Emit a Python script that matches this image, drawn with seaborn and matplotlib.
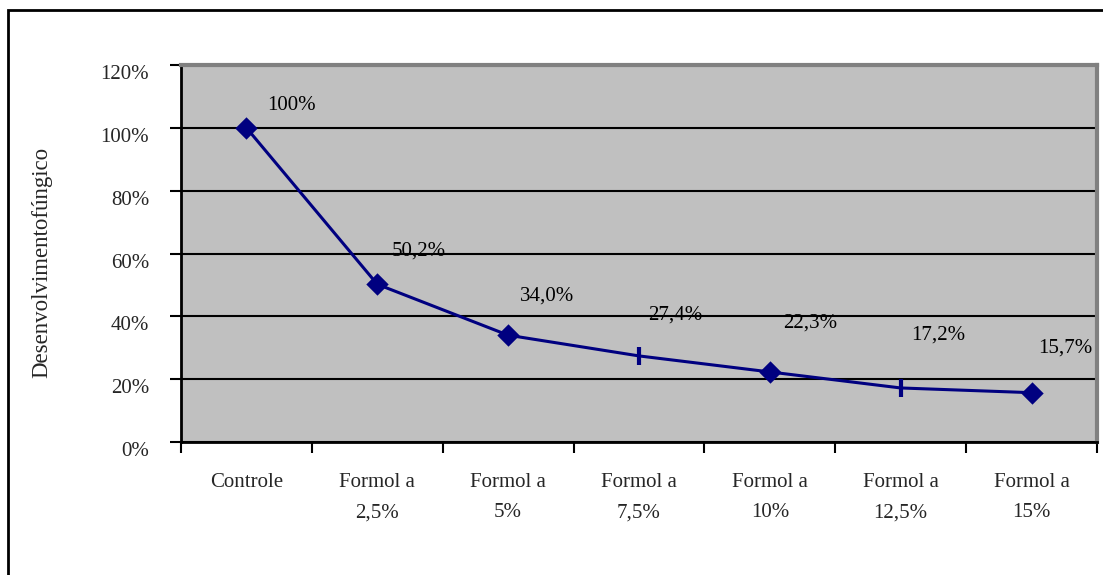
import numpy as np
import pandas as pd
import seaborn as sns
import matplotlib.pyplot as plt
from matplotlib.patches import Rectangle

categories = ['Controle', 'Formol a\n2,5%', 'Formol a\n5%', 'Formol a\n7,5%',
              'Formol a\n10%', 'Formol a\n12,5%', 'Formol a\n15%']
values = [100, 50.2, 34.0, 27.4, 22.3, 17.2, 15.7]
value_labels = ['100%', '50,2%', '34,0%', '27,4%', '22,3%', '17,2%', '15,7%']
marker_kind = ['d', 'd', 'd', 'v', 'd', 'v', 'd']
yticks = [0, 20, 40, 60, 80, 100, 120]

# label offsets (pixels) as placed in the original chart
label_dx = [45, 41, 39, 36, 40, 38, 34]
label_dy = [22, 33, 39, 41, 49, 53, 45]

df = pd.DataFrame({'pos': np.arange(len(categories)), 'val': values, 'kind': marker_kind})

sns.set_style('white')
plt.rcParams['font.family'] = ['Liberation Serif', 'DejaVu Serif']

fig = plt.figure(figsize=(11.03, 5.75), dpi=100)
ax = fig.add_axes([181 / 1103, 133 / 575, 916 / 1103, 377 / 575])
ax.set_facecolor('#C0C0C0')

navy = '#000080'
sns.lineplot(data=df, x='pos', y='val', color=navy, linewidth=2.2, ax=ax, zorder=3)
sns.scatterplot(data=df[df['kind'] == 'd'], x='pos', y='val', marker='D',
                color=navy, s=130, linewidth=0, legend=False, ax=ax, zorder=4)
sns.scatterplot(data=df[df['kind'] == 'v'], x='pos', y='val', marker='|',
                color=navy, s=170, linewidth=3, legend=False, ax=ax, zorder=4)

for x, y, t, dx, dy in zip(df['pos'], df['val'], value_labels, label_dx, label_dy):
    ax.annotate(t, (x, y), xytext=(dx * 0.72, dy * 0.72), textcoords='offset points',
                ha='center', va='center', fontsize=15, color='black')

ax.set_xlim(-0.5, len(categories) - 0.5)
ax.set_ylim(0, 120)
ax.set_yticks(yticks)
ax.set_yticklabels([f'{v}%' for v in yticks], fontsize=15)
plt.setp(ax.get_yticklabels(), va='top')
ax.yaxis.grid(True, color='black', linewidth=1.5)
ax.set_axisbelow(True)

ax.set_xticks(np.arange(-0.5, len(categories), 1.0))
ax.set_xticklabels([])
ax.set_xticks(np.arange(len(categories)), minor=True)
ax.set_xticklabels(categories, minor=True, fontsize=15, linespacing=1.85)
ax.tick_params(axis='x', which='minor', length=0, pad=22)
ax.tick_params(axis='both', which='major', length=8, width=1.5, color='black', direction='out')
ax.tick_params(axis='x', which='major', bottom=True)
ax.tick_params(axis='y', which='major', left=True, pad=15)

for side in ['left', 'bottom']:
    ax.spines[side].set_color('black')
    ax.spines[side].set_linewidth(2)
for side in ['top', 'right']:
    ax.spines[side].set_color('#808080')
    ax.spines[side].set_linewidth(3)

ax.set_xlabel('')
ax.set_ylabel('Desenvolvimentofúngico', fontsize=16.5)
ax.yaxis.set_label_coords(-0.14, 0.477)

fig.patches.append(Rectangle((8 / 1103, -0.05), 1.2, 1 - 10 / 575 + 0.05, transform=fig.transFigure,
                             fill=False, edgecolor='black', linewidth=2))

fig.savefig('out.png', dpi=100)
